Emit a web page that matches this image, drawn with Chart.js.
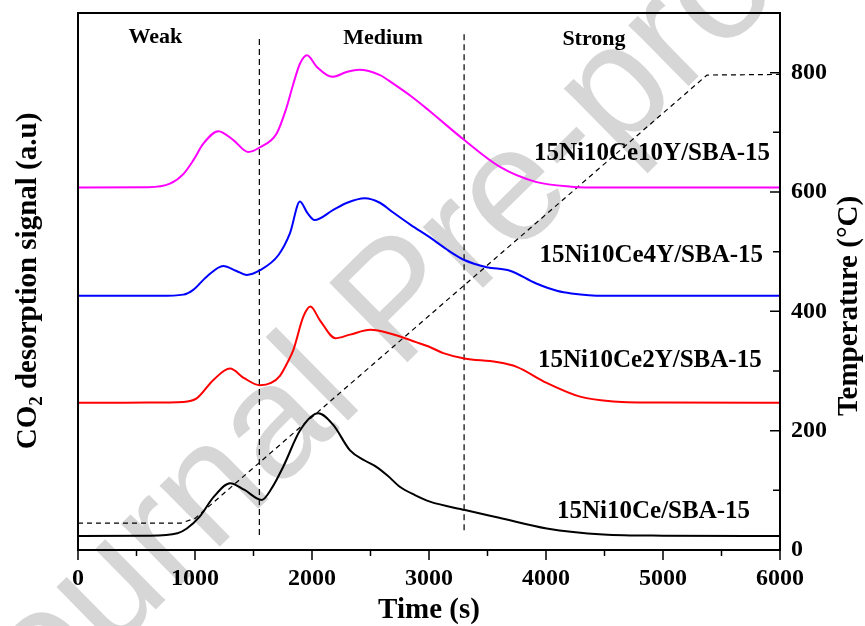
<!DOCTYPE html>
<html>
<head>
<meta charset="utf-8">
<script src="https://cdn.jsdelivr.net/npm/chart.js@4"></script>
<style>
  html, body { margin: 0; padding: 0; background: #fff; }
  #wrap { width: 865px; height: 626px; position: relative; }
</style>
</head>
<body>
<div id="wrap"><canvas id="chart"></canvas></div>
<script>
// CO2-TPD profiles (signal in a.u., curves offset)
var tBlack = [0, 600, 850, 930, 1040, 1160, 1300, 1420, 1570, 1660, 1755, 1900, 2054, 2180, 2325, 2450, 2553, 2650, 2750, 2880, 3008, 3308, 3600, 4006, 4490, 5000, 6000];
var sBlack = [23.5, 24, 28, 36, 56, 89, 112, 101, 84, 105, 140, 201, 229, 210, 167, 150, 139, 124, 106, 92, 81, 67, 54, 36, 26, 24, 23.5];

var tRed = [0, 600, 900, 1014, 1157, 1299, 1420, 1556, 1650, 1726, 1800, 1840, 1926, 1986, 2068, 2200, 2325, 2500, 2667, 2895, 2997, 3122, 3302, 3578, 3749, 4006, 4291, 4575, 5000, 6000];
var sRed = [246.8, 247, 248, 254, 285, 304, 288, 276, 280, 292, 318, 335, 391, 408, 385, 355, 361, 369, 363, 348, 341, 330, 321, 315, 307, 280, 257, 249, 247, 246.8];

var tBlue = [0, 700, 900, 985, 1100, 1242, 1350, 1442, 1556, 1712, 1812, 1897, 1960, 2022, 2182, 2300, 2450, 2580, 2691, 2843, 3008, 3150, 3302, 3493, 3692, 3912, 4100, 4217, 4487, 6000];
var sBlue = [426, 426, 428, 436, 458, 476, 468, 461, 469, 494, 531, 584, 565, 553, 570, 582, 589.5, 582, 566, 545, 524, 504, 486, 474, 468, 447, 434, 430, 426, 426];

var tPink = [0, 600, 786, 900, 985, 1071, 1200, 1328, 1456, 1556, 1698, 1780, 1840, 1897, 1958, 2040, 2173, 2296, 2400, 2581, 2691, 2850, 2997, 3302, 3607, 3912, 4217, 4500, 6000];
var sPink = [607.5, 608, 614, 630, 653, 681, 702, 687, 667, 675, 698, 740, 781, 815, 829, 810, 793, 801, 805, 796, 782, 760, 737, 687, 642, 617, 609, 607.5, 607.5];

// temperature programme (°C)
var tTemp = [0, 880, 1000, 5376, 6000];
var temp = [45, 45, 53, 796, 797];

// weak / medium / strong borders
var dividerTimes = [1550, 3300];
var dividerLow = [25, 33];
var dividerHigh = [857, 867];

var regionNames = ["Weak", "Medium", "Strong"];
var regionX = [662, 2607, 4410];
var regionY = [860, 858, 856];

var sampleNames = ["15Ni10Ce10Y/SBA-15", "15Ni10Ce4Y/SBA-15", "15Ni10Ce2Y/SBA-15", "15Ni10Ce/SBA-15"];
var sampleX = [5915, 5855, 5843, 5744];
var sampleY = [665, 494, 317, 65];

var serif = "'Liberation Serif', 'Times New Roman', serif";

function pts(xs, ys) {
    var out = [];
    for (var i = 0; i < xs.length; ++i)
        out.push({ x: xs[i], y: ys[i] });
    return out;
}

function curve(data, color) {
    return {
        data: data, borderColor: color, borderWidth: 2, pointRadius: 0,
        cubicInterpolationMode: 'monotone', yAxisID: 'y', fill: false
    };
}

function noPad(s) {
    s.paddingTop = 0; s.paddingBottom = 0; s.paddingLeft = 0; s.paddingRight = 0;
}

var datasets = [
    curve(pts(tBlack, sBlack), '#000000'),
    curve(pts(tRed, sRed), '#ff0000'),
    curve(pts(tBlue, sBlue), '#0000ff'),
    curve(pts(tPink, sPink), '#ff00ff'),
    {
        data: pts(tTemp, temp), borderColor: '#000', borderWidth: 1.2,
        borderDash: [5, 4], pointRadius: 0, tension: 0, yAxisID: 'y1'
    }
];
for (var d = 0; d < dividerTimes.length; ++d) {
    datasets.push({
        data: [{ x: dividerTimes[d], y: dividerLow[d] }, { x: dividerTimes[d], y: dividerHigh[d] }],
        borderColor: '#000', borderWidth: 1.2, borderDash: [6, 4],
        pointRadius: 0, yAxisID: 'y'
    });
}

var decor = {
    id: 'decor',
    beforeDraw: function (chart) {
        // faint "Journal Pre-proof" watermark behind everything
        var ctx = chart.ctx;
        ctx.save();
        ctx.translate(402, 305);
        ctx.rotate(-44.5 * Math.PI / 180);
        ctx.font = "162px 'Liberation Sans', Arial, sans-serif";
        ctx.fillStyle = '#d6d6d6';
        ctx.textAlign = 'center';
        ctx.textBaseline = 'middle';
        ctx.fillText('Journal Pre-proof', 0, 0);
        ctx.restore();
    },
    afterDraw: function (chart) {
        var ctx = chart.ctx, a = chart.chartArea;
        var x = chart.scales.x, y = chart.scales.y, y1 = chart.scales.y1;
        ctx.save();
        // frame
        ctx.strokeStyle = '#000';
        ctx.lineWidth = 2;
        ctx.strokeRect(a.left, a.top, a.right - a.left, a.bottom - a.top);
        // x ticks (outward), major + minor
        ctx.lineWidth = 1.5;
        ctx.beginPath();
        for (var v = 0; v <= 6000; v += 500) {
            var px = x.getPixelForValue(v);
            ctx.moveTo(px, a.bottom);
            ctx.lineTo(px, a.bottom + (v % 1000 === 0 ? 10 : 6));
        }
        // right axis ticks (inward)
        for (var t = 0; t <= 800; t += 100) {
            var py = y1.getPixelForValue(t);
            ctx.moveTo(a.right, py);
            ctx.lineTo(a.right - (t % 200 === 0 ? 10 : 7), py);
        }
        ctx.stroke();

        // region names
        ctx.fillStyle = '#000';
        ctx.textBaseline = 'middle';
        ctx.textAlign = 'center';
        ctx.font = 'bold 22px ' + serif;
        for (var i = 0; i < regionNames.length; ++i)
            ctx.fillText(regionNames[i], x.getPixelForValue(regionX[i]), y.getPixelForValue(regionY[i]));
        // sample names
        ctx.textAlign = 'right';
        ctx.font = 'bold 25px ' + serif;
        for (var j = 0; j < sampleNames.length; ++j)
            ctx.fillText(sampleNames[j], x.getPixelForValue(sampleX[j]), y.getPixelForValue(sampleY[j]));

        // left axis title with subscript
        ctx.save();
        ctx.translate(29, 281);
        ctx.rotate(-Math.PI / 2);
        var big = 'bold 29px ' + serif, small = 'bold 19px ' + serif;
        ctx.font = big;
        var w1 = ctx.measureText('CO').width;
        var w3 = ctx.measureText(' desorption signal (a.u)').width;
        ctx.font = small;
        var w2 = ctx.measureText('2').width;
        var sx = -(w1 + w2 + w3) / 2;
        ctx.textAlign = 'left';
        ctx.font = big;
        ctx.fillText('CO', sx, 0);
        ctx.font = small;
        ctx.fillText('2', sx + w1, 8);
        ctx.font = big;
        ctx.fillText(' desorption signal (a.u)', sx + w1 + w2, 0);
        ctx.restore();

        // right axis title (reads bottom to top)
        ctx.save();
        ctx.translate(850, 306);
        ctx.rotate(-Math.PI / 2);
        ctx.textAlign = 'center';
        ctx.font = 'bold 29px ' + serif;
        ctx.fillText('Temperature (\u00B0C)', 0, 0);
        ctx.restore();
        ctx.restore();
    }
};

new Chart(document.getElementById('chart'), {
    type: 'line',
    data: { datasets: datasets },
    options: {
        responsive: true,
        maintainAspectRatio: false,
        animation: false,
        layout: { padding: { left: 78, top: 13, right: 0, bottom: 0 } },
        plugins: { legend: { display: false }, tooltip: { enabled: false } },
        scales: {
            x: {
                type: 'linear', min: 0, max: 6000,
                ticks: {
                    stepSize: 1000, includeBounds: false, autoSkip: false, maxRotation: 0,
                    padding: 4, color: '#000',
                    font: { family: serif, size: 24, weight: 'bold' },
                    callback: function (v) { return String(v); }
                },
                grid: { display: false, drawTicks: true, tickLength: 10 },
                border: { display: false },
                title: {
                    display: true, text: 'Time (s)', color: '#000',
                    padding: { top: 0, bottom: 0 },
                    font: { family: serif, size: 29, weight: 'bold', lineHeight: 1.1 }
                },
                afterFit: function (s) { s.height = 76; noPad(s); }
            },
            y: {
                display: false, min: 0, max: 900
            },
            y1: {
                position: 'right', min: 0, max: 900,
                ticks: {
                    stepSize: 200, includeBounds: false, padding: 11, color: '#000',
                    font: { family: serif, size: 24, weight: 'bold' },
                    callback: function (v) { return String(v); }
                },
                grid: { display: false, drawTicks: false },
                border: { display: false },
                afterFit: function (s) { s.width = 85; noPad(s); }
            }
        }
    },
    plugins: [decor]
});
</script>
</body>
</html>
